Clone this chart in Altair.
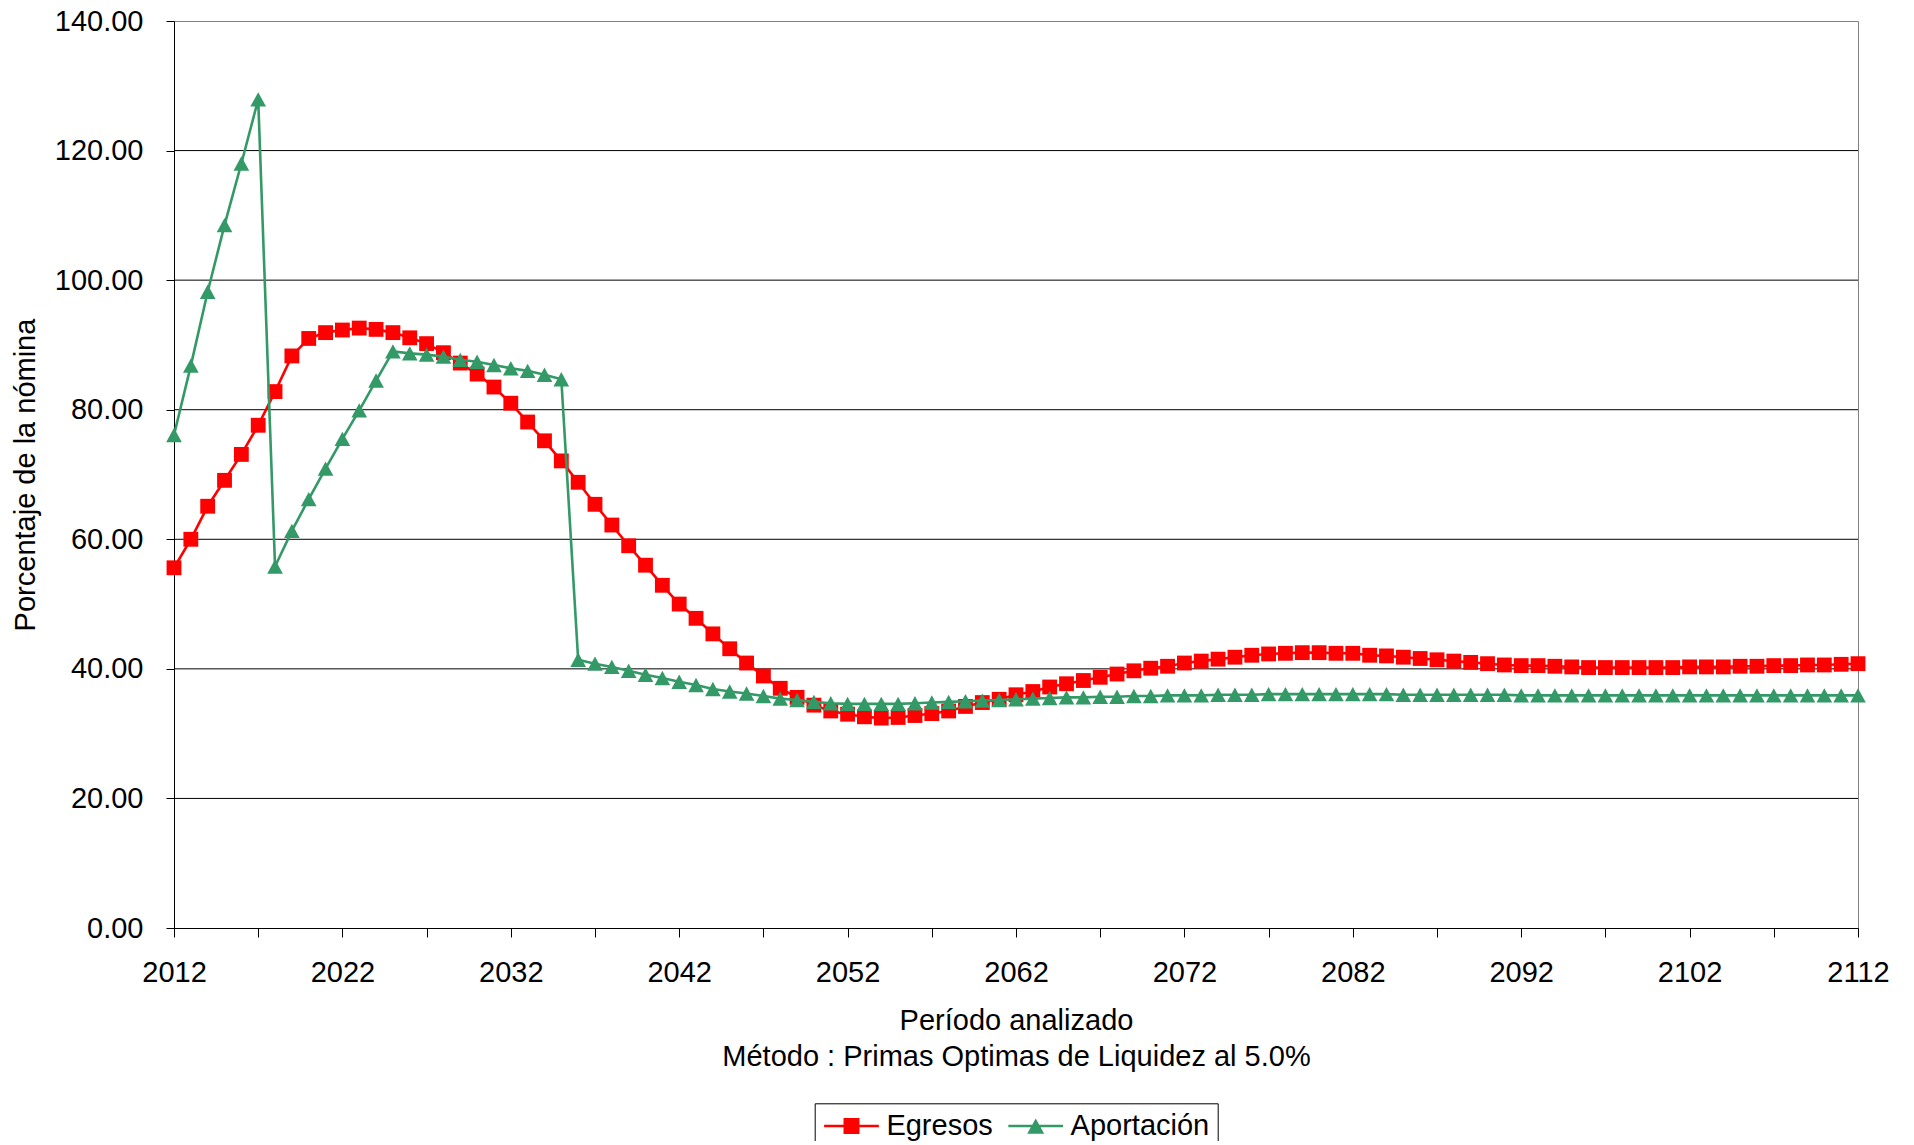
import altair as alt
import pandas as pd

# ---------------- data ----------------
years = list(range(2012, 2113))

egresos = [
    55.6, 60.0, 65.1, 69.1, 73.1, 77.6, 82.8, 88.3, 91.0, 91.9,
    92.3, 92.6, 92.4, 91.9, 91.1, 90.2, 88.8, 87.2, 85.5, 83.5,
    81.0, 78.1, 75.2, 72.1, 68.8, 65.4, 62.2, 59.0, 56.0, 52.9,
    50.0, 47.8, 45.4, 43.1, 40.9, 38.9, 37.0, 35.6, 34.4, 33.5,
    33.0, 32.6, 32.4, 32.5, 32.8, 33.1, 33.5, 34.2, 34.8, 35.3,
    36.0, 36.5, 37.2, 37.7, 38.2, 38.7, 39.2, 39.7, 40.1, 40.4,
    40.9, 41.2, 41.5, 41.8, 42.1, 42.3, 42.4, 42.5, 42.5, 42.4,
    42.4, 42.1, 42.0, 41.8, 41.6, 41.4, 41.2, 41.0, 40.8, 40.6,
    40.5, 40.5, 40.4, 40.3, 40.2, 40.2, 40.2, 40.2, 40.2, 40.2,
    40.3, 40.3, 40.3, 40.4, 40.4, 40.5, 40.5, 40.6, 40.6, 40.7,
    40.8,
]

aportacion = [
    76.1, 86.8, 98.2, 108.5, 118.0, 127.9, 55.8, 61.3, 66.2, 70.9,
    75.5, 79.9, 84.5, 89.0, 88.7, 88.5, 88.2, 87.7, 87.4, 86.9,
    86.4, 86.0, 85.4, 84.7, 41.4, 40.8, 40.3, 39.7, 39.1, 38.6,
    38.0, 37.5, 36.9, 36.5, 36.2, 35.8, 35.4, 35.2, 34.9, 34.7,
    34.6, 34.6, 34.6, 34.6, 34.7, 34.8, 34.9, 35.0, 35.1, 35.2,
    35.3, 35.4, 35.5, 35.6, 35.6, 35.7, 35.7, 35.8, 35.8, 35.9,
    35.9, 35.9, 36.0, 36.0, 36.0, 36.1, 36.1, 36.1, 36.1, 36.1,
    36.1, 36.1, 36.1, 36.0, 36.0, 36.0, 36.0, 36.0, 36.0, 36.0,
    35.9, 35.9, 35.9, 35.9, 35.9, 35.9, 35.9, 35.9, 35.9, 35.9,
    35.9, 35.9, 35.9, 35.9, 35.9, 35.9, 35.9, 35.9, 35.9, 35.9,
    35.9,
]

series_names = ["Egresos", "Aportación"]
series_colors = ["#FF0000", "#339966"]
y_ticks = [0, 20, 40, 60, 80, 100, 120, 140]
grid_values = [20, 40, 60, 80, 100, 120]
x_ticks = list(range(2012, 2113, 5))

x_title = ["Período analizado", "Método : Primas Optimas de Liquidez al 5.0%"]
y_title = "Porcentaje de la nómina"

# marker shapes (unit box scaled by sqrt(size)/2)
triangle_path = "M-1,0.92L0,-0.92L1,0.92Z"
# legend symbols: line with marker
legend_paths = [
    "M-3.22,-0.15L3.22,-0.15L3.22,0.15L-3.22,0.15Z M-0.94,-0.94L0.94,-0.94L0.94,0.94L-0.94,0.94Z",
    "M-3.22,-0.15L3.22,-0.15L3.22,0.15L-3.22,0.15Z M-1.0,0.9L0,-0.9L1.0,0.9Z",
]

df_eg = pd.DataFrame({"year": years, "value": egresos})
df_ap = pd.DataFrame({"year": years, "value": aportacion})
df_grid = pd.DataFrame({"value": grid_values})
df_leg = pd.DataFrame({"series": series_names})

FONT = "Liberation Sans"

x_enc = alt.X(
    "year:Q",
    scale=alt.Scale(domain=[2012, 2112], nice=False, zero=False),
    title=x_title,
    axis=alt.Axis(
        values=x_ticks,
        format="d",
        labelExpr="(datum.value - 2012) % 10 == 0 ? datum.label : ''",
        grid=False,
        tickSize=9,
        tickColor="black",
        domainColor="black",
        labelPadding=21,
        labelFontSize=29,
        labelColor="black",
        labelFlush=False,
        labelOverlap=False,
        titleFontSize=29,
        titleFontWeight="normal",
        titleColor="black",
        titleBaseline="top",
        titleY=78,
        titleLineHeight=36,
    ),
)

y_enc = alt.Y(
    "value:Q",
    scale=alt.Scale(domain=[0, 140], nice=False, zero=True),
    title=y_title,
    axis=alt.Axis(
        values=y_ticks,
        format=".2f",
        grid=False,
        tickSize=8,
        tickColor="black",
        domainColor="black",
        labelPadding=23,
        labelFontSize=29,
        labelColor="black",
        labelOverlap=False,
        titleFontSize=29,
        titleFontWeight="normal",
        titleColor="black",
        titleAngle=270,
        titleBaseline="middle",
        titleX=-149,
        titleY=453.5,
    ),
)

grid = alt.Chart(df_grid).mark_rule(color="black", strokeWidth=1).encode(y=y_enc)

eg_line = alt.Chart(df_eg).mark_line(color=series_colors[0], strokeWidth=2.6).encode(x=x_enc, y=y_enc)
eg_pts = alt.Chart(df_eg).mark_point(
    shape="square", filled=True, size=220, color=series_colors[0], opacity=1
).encode(x=x_enc, y=y_enc)

ap_line = alt.Chart(df_ap).mark_line(color=series_colors[1], strokeWidth=2.6).encode(x=x_enc, y=y_enc)
ap_pts = alt.Chart(df_ap).mark_point(
    shape=triangle_path, filled=True, size=245, color=series_colors[1], opacity=1
).encode(x=x_enc, y=y_enc)

leg = alt.Legend(
    orient="none",
    legendX=640.7,
    legendY=1082.3,
    direction="horizontal",
    padding=8,
    strokeColor="black",
    fillColor="white",
    labelFontSize=29,
    labelFont=FONT,
    labelColor="black",
    symbolSize=289,
    symbolStrokeWidth=0,
    symbolOffset=14.3,
    labelOffset=20.4,
    columnPadding=13.2,
    labelLimit=400,
)

legend_layer = alt.Chart(df_leg).transform_filter("false").mark_point(
    filled=True, opacity=1
).encode(
    color=alt.Color("series:N", scale=alt.Scale(domain=series_names, range=series_colors), legend=leg, title=None),
    shape=alt.Shape("series:N", scale=alt.Scale(domain=series_names, range=legend_paths), legend=leg, title=None),
)

chart = alt.layer(grid, eg_line, eg_pts, ap_line, ap_pts, legend_layer).properties(
    width=1684,
    height=907,
    autosize=alt.AutoSizeParams(type="none"),
    padding={"left": 166, "top": 13, "right": 40, "bottom": 213},
    background="white",
).configure(font=FONT).configure_view(
    stroke="#808080", strokeWidth=1
).configure_axis(
    labelFont=FONT, titleFont=FONT, domainWidth=1, tickWidth=1
)

chart.save("out.html", embed_options={"renderer": "svg", "actions": False})
